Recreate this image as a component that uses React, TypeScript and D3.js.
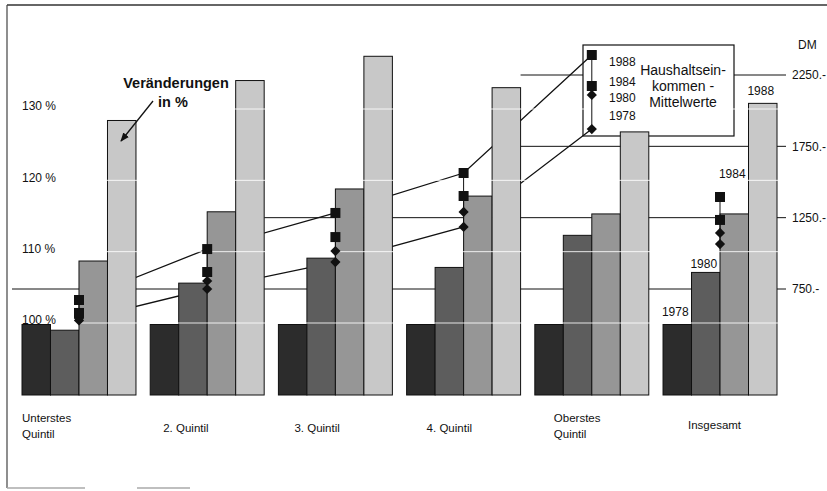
import React from "react";
import * as d3 from "d3";

// ---- data ----
const groups = ["Unterstes Quintil", "2. Quintil", "3. Quintil", "4. Quintil", "Oberstes Quintil", "Insgesamt"];
const groupLabelLines = [["Unterstes", "Quintil"], ["2. Quintil"], ["3. Quintil"], ["4. Quintil"], ["Oberstes", "Quintil"], ["Insgesamt"]];
const years = ["1978", "1980", "1984", "1988"];

// Veränderungen in % (1978 = 100)
const pct1978 = [100, 100, 100, 100, 100, 100];
const pct1980 = [99.2, 105.8, 109.3, 108.0, 112.5, 107.3];
const pct1984 = [108.9, 115.8, 119.0, 118.0, 115.5, 115.5];
const pct1988 = [128.6, 134.2, 137.6, 133.2, 127.0, 131.0];

// Haushaltseinkommen - Mittelwerte (DM)
const dm1978 = [530, 750, 939, 1185, 1871, 1065];
const dm1980 = [545, 806, 1016, 1290, 2110, 1143];
const dm1984 = [582, 869, 1114, 1402, 2173, 1234];
const dm1988 = [673, 1030, 1283, 1563, 2390, 1395];

const pctTicks = [100, 110, 120, 130];
const dmTicks = [750, 1250, 1750, 2250];
const dmTickLabels = ["750.-", "1250.-", "1750.-", "2250.-"];
// gridline starts after this group index (-1 = from left edge)
const dmGridFromGroup = [-1, 1, 3, 3];
// series drawn with connecting lines (over the quintile groups only)
const linkedYears = ["1978", "1988"];
const linkedGroupCount = 5;

// ---- layout ----
const W = 827, H = 491;
const FONT = "'Liberation Sans', Arial, Helvetica, sans-serif";
const baseY = 395;
const barColors = ["#2c2c2c", "#5d5d5d", "#969696", "#c8c8c8"];
const labelDx = [0, 13, 16, 20, 19, 25];
const insLabelDy = [-13, -9, -40, -13];

export default function App() {
  const pctSeries = [pct1978, pct1980, pct1984, pct1988];
  const dmSeries = [dm1978, dm1980, dm1984, dm1988];

  const x = d3.scaleBand<string>().domain(groups).range([22, 777]).paddingInner(0.111).paddingOuter(0);
  const xi = d3.scaleBand<string>().domain(years).range([0, x.bandwidth()]).padding(0);
  const yPct = d3.scaleLinear().domain([100, 130]).range([324.5, 110.5]);
  const yDM = d3.scaleLinear().domain([750, 2250]).range([289, 75]);

  const cx = (g: string) => (x(g) as number) + x.bandwidth() / 2;
  const square = d3.symbol().type(d3.symbolSquare).size(100)() as string;
  const diamond = d3.symbol().type(d3.symbolSquare).size(52)() as string;

  const gridRight = 786;
  const lineGen = d3.line<[number, number]>().x((d) => d[0]).y((d) => d[1]);

  return (
    <svg width={W} height={H} style={{ position: "absolute", left: 0, top: 0, background: "#fff" }} fontFamily={FONT}>
      <rect x={0} y={0} width={W} height={H} fill="#fff" />
      {/* frame */}
      <line x1={7} y1={5} x2={W} y2={5} stroke="#333" strokeWidth={1.3} />
      <line x1={7} y1={5} x2={7} y2={488} stroke="#444" strokeWidth={1.2} />
      <line x1={7} y1={488} x2={85} y2={488} stroke="#aaa" strokeWidth={1.5} />
      <line x1={137} y1={488} x2={190} y2={488} stroke="#aaa" strokeWidth={1.5} />

      {/* DM gridlines */}
      {dmTicks.map((t, i) => {
        const gi = dmGridFromGroup[i];
        const x1 = gi < 0 ? 12 : (x(groups[gi]) as number) + x.bandwidth();
        return <line key={t} x1={x1} x2={gridRight} y1={yDM(t)} y2={yDM(t)} stroke="#111" strokeWidth={1} />;
      })}

      {/* legend box */}
      <rect x={583} y={45} width={151} height={91} fill="#fff" stroke="#111" strokeWidth={1.2} />

      {/* connecting lines */}
      {linkedYears.map((yr) => {
        const si = years.indexOf(yr);
        const pts: [number, number][] = groups.slice(0, linkedGroupCount).map((g, gi) => [cx(g), yDM(dmSeries[si][gi])]);
        return <path key={yr} d={lineGen(pts) as string} fill="none" stroke="#111" strokeWidth={1.3} />;
      })}

      {/* bars */}
      {groups.map((g, gi) =>
        years.map((yr, si) => {
          const bx = (x(g) as number) + (xi(yr) as number);
          const top = yPct(pctSeries[si][gi]);
          return (
            <rect key={g + yr} x={bx} y={top} width={xi.bandwidth()} height={baseY - top}
              fill={barColors[si]} stroke="#111" strokeWidth={1} />
          );
        })
      )}

      {/* white percent gridlines across bars */}
      {pctTicks.map((t) => (
        <line key={t} x1={12} x2={gridRight} y1={yPct(t) - 1.5} y2={yPct(t) - 1.5} stroke="#fff" strokeWidth={1} opacity={0.85} />
      ))}

      {/* markers */}
      {groups.map((g, gi) => {
        const ys = dmSeries.map((s) => yDM(s[gi]));
        const mx = cx(g);
        return (
          <g key={g}>
            <line x1={mx} x2={mx} y1={d3.min(ys) as number} y2={d3.max(ys) as number} stroke="#111" strokeWidth={1} />
            {years.map((yr, si) => (
              <path key={yr} d={si >= 2 ? square : diamond}
                transform={`translate(${mx},${ys[si]})${si >= 2 ? "" : " rotate(45)"}`} fill="#111" />
            ))}
          </g>
        );
      })}

      {/* left axis labels */}
      {pctTicks.map((t) => (
        <text key={t} x={22} y={yPct(t) - 4.5} dy="0.35em" fontSize={12} fill="#111">{`${t} %`}</text>
      ))}

      {/* right axis labels */}
      <text x={798} y={45} dy="0.35em" fontSize={12} fill="#111">DM</text>
      {dmTicks.map((t, i) => (
        <text key={t} x={792} y={yDM(t)} dy="0.35em" fontSize={12} fill="#111">{dmTickLabels[i]}</text>
      ))}

      {/* category labels */}
      {groupLabelLines.map((lines, gi) => {
        const lx = (x(groups[gi]) as number) + labelDx[gi];
        const ys = lines.length === 2 ? [418, 434] : [gi === 5 ? 425 : 428];
        return lines.map((ln, li) => (
          <text key={gi + "-" + li} x={lx} y={ys[li]} dy="0.35em" fontSize={11.5} fill="#111">{ln}</text>
        ));
      })}

      {/* Insgesamt year labels */}
      {years.map((yr, si) => {
        const g = groups[5];
        const bx = (x(g) as number) + (xi(yr) as number) + xi.bandwidth() / 2;
        const ty = yPct(pctSeries[si][5]) + insLabelDy[si];
        return <text key={yr} x={bx - 2} y={ty} dy="0.35em" textAnchor="middle" fontSize={12} fill="#111">{yr}</text>;
      })}

      {/* legend text */}
      {[...years].reverse().map((yr, i) => (
        <text key={yr} x={609} y={[62, 82, 98, 116][i]} dy="0.35em" fontSize={12} fill="#111">{yr}</text>
      ))}
      {["Haushaltsein-", "kommen -", "Mittelwerte"].map((t, i) => (
        <text key={t} x={683} y={70 + i * 16} dy="0.35em" textAnchor="middle" fontSize={14} fill="#111">{t}</text>
      ))}

      {/* annotation */}
      <defs>
        <marker id="arr" viewBox="0 0 10 10" refX={9} refY={5} markerWidth={9} markerHeight={9} orient="auto" markerUnits="userSpaceOnUse">
          <path d="M0,1 L10,5 L0,9 Z" fill="#111" />
        </marker>
      </defs>
      <text x={176} y={88} textAnchor="middle" fontSize={14.5} fontWeight="bold" fill="#111">Veränderungen</text>
      <text x={173} y={102} dy="0.35em" textAnchor="middle" fontSize={14.5} fontWeight="bold" fill="#111">in %</text>
      <line x1={153} y1={101} x2={121} y2={141} stroke="#111" strokeWidth={1.3} markerEnd="url(#arr)" />
    </svg>
  );
}
